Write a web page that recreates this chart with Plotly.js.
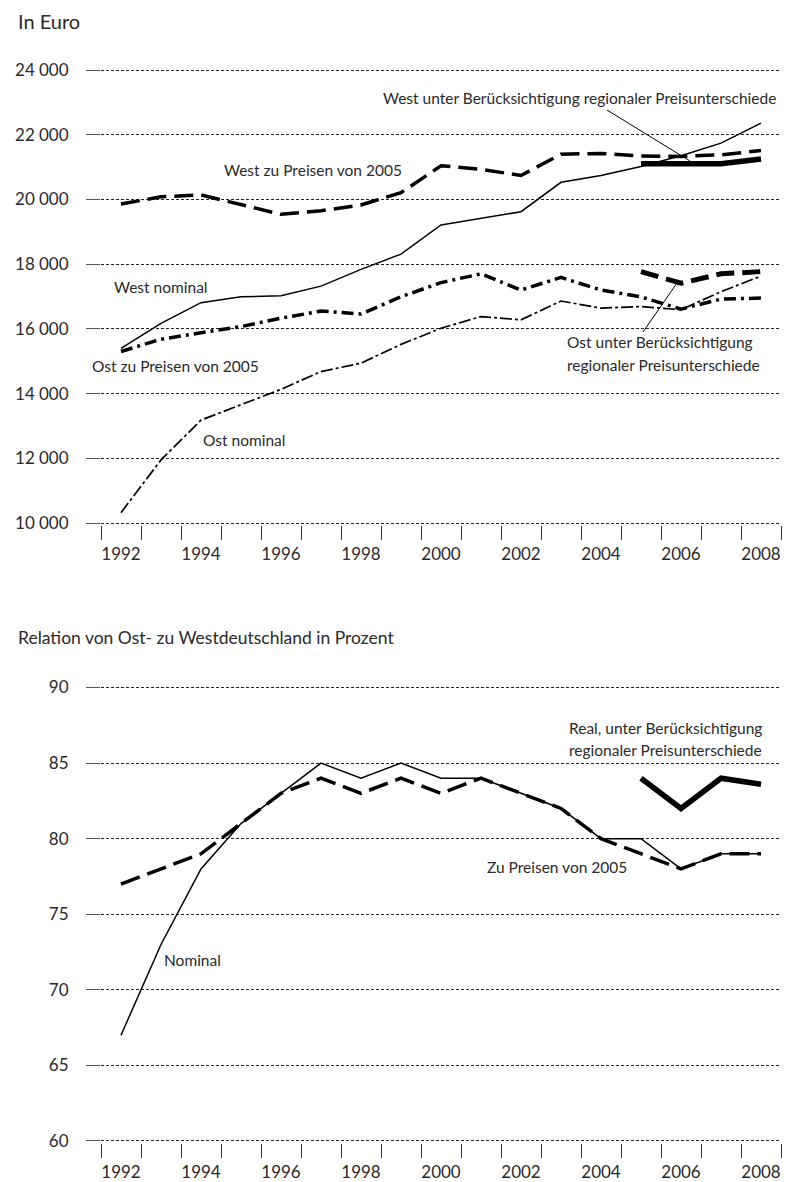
<!DOCTYPE html>
<html><head><meta charset="utf-8">
<script src="https://cdn.plot.ly/plotly-3.0.1.min.js"></script>
<style>html,body{margin:0;padding:0;background:#fff}#chart{width:795px;height:1182px}</style>
</head><body><div id="chart"></div>
<script>
// ---- data ----
const years = [1992,1993,1994,1995,1996,1997,1998,1999,2000,2001,2002,2003,2004,2005,2006,2007,2008];
const westNominal = [15400,16170,16810,16990,17020,17320,17840,18310,19210,19420,19620,20530,20740,21020,21350,21740,22360];
const westPreise2005 = [19860,20080,20140,19830,19540,19650,19830,20210,21040,20930,20740,21400,21420,21340,21330,21380,21510];
const regionalYears = [2005,2006,2007,2008];
const westRegional = [21100,21100,21100,21250];
const ostNominal = [10320,11950,13180,13650,14130,14680,14940,15520,16020,16380,16280,16860,16640,16690,16590,17150,17630];
const ostPreise2005 = [15300,15680,15880,16070,16330,16550,16460,16990,17430,17700,17200,17590,17200,16990,16610,16920,16950];
const ostRegional = [17770,17410,17700,17770];
const relNominal = [67,73,78,81,83,85,84,85,84,84,83,82,80,80,78,79,79];
const relPreise2005 = [77,78,79,81,83,84,83,84,83,84,83,82,80,79,78,79,79];
const relReal = [84,82,84,83.6];
const topTickVals = [10000,12000,14000,16000,18000,20000,22000,24000];
const topTickText = ['10\u202F000','12\u202F000','14\u202F000','16\u202F000','18\u202F000','20\u202F000','22\u202F000','24\u202F000'];
const bottomTickVals = [60,65,70,75,80,85,90];
const bottomTickText = ['60','65','70','75','80','85','90'];
const xLabelYears = [1992,1994,1996,1998,2000,2002,2004,2006,2008];
const xLabelText = ['1992','1994','1996','1998','2000','2002','2004','2006','2008'];

// ---- layout helpers ----
const W = 795, H = 1182;
const px = x => x / W;
const py = y => 1 - y / H;
const FONT = 'Lato, "Open Sans", "DejaVu Sans", sans-serif';
const TXT = '#2a2a2a';

function line(x, y, xa, ya, width, dash) {
  return {x, y, xaxis: xa, yaxis: ya, type: 'scatter', mode: 'lines',
    line: {color: '#000', width, dash: dash || 'solid'}, hoverinfo: 'skip'};
}

const traces = [
  line(years, westPreise2005, 'x', 'y', 3.5, '19px,8px'),
  line(years, westNominal, 'x', 'y', 1.5),
  line(regionalYears, westRegional, 'x', 'y', 5.5),
  line(years, ostPreise2005, 'x', 'y', 3.5, '12px,5px,3px,5px'),
  line(years, ostNominal, 'x', 'y', 1.7, '12px,3px,3px,3px'),
  line(regionalYears, ostRegional, 'x', 'y', 5, '18px,8px'),
  line(years, relPreise2005, 'x2', 'y2', 3.5, '20px,8px'),
  line(years, relNominal, 'x2', 'y2', 1.5),
  line(regionalYears, relReal, 'x2', 'y2', 5.5)
];

function xAxis(anchor) {
  return {
    domain: [px(101), px(781)], range: [1991.5, 2008.5], anchor,
    tickmode: 'array', tickvals: xLabelYears, ticktext: xLabelText,
    ticks: '', showgrid: false, zeroline: false, showline: false,
    ticklabelstandoff: 17,
    tickfont: {family: FONT, size: 17, color: TXT},
    minor: {tickmode: 'array', tickvals: years.map(v => v - 0.5).concat([2008.5]),
      ticks: 'outside', ticklen: 14, tickwidth: 1, tickcolor: '#333', showgrid: false}
  };
}
function yAxis(domain, range, vals, text, anchor) {
  return {
    domain, range, anchor,
    tickmode: 'array', tickvals: vals, ticktext: text,
    ticks: 'outside', ticklen: 14, tickwidth: 1, tickcolor: '#555',
    ticklabelstandoff: 14,
    showgrid: true, gridcolor: '#222', gridwidth: 1, griddash: '3px,2px',
    zeroline: false, showline: false,
    tickfont: {family: FONT, size: 17, color: TXT}
  };
}

const topPad = 50 * 453 / 14000;
const topDomain = [py(523 + topPad), py(70 - topPad)];
const botPad = 0.1 * 453.5 / 30;
const botDomain = [py(1141 + botPad), py(687.5 - botPad)];

function ann(text, x, y, anchor, size) {
  return {text, x: px(x), y: py(y), xref: 'paper', yref: 'paper', showarrow: false,
    xanchor: anchor || 'left', yanchor: 'middle', align: anchor === 'right' ? 'right' : 'left',
    font: {family: FONT, size: size || 15.5, color: TXT}};
}

const layout = {
  width: W, height: H, margin: {l: 0, r: 0, t: 0, b: 0},
  paper_bgcolor: '#fff', plot_bgcolor: '#fff', showlegend: false, hovermode: false,
  xaxis: xAxis('y'),
  yaxis: yAxis(topDomain, [9950, 24050], topTickVals, topTickText, 'x'),
  xaxis2: xAxis('y2'),
  yaxis2: yAxis(botDomain, [59.9, 90.1], bottomTickVals, bottomTickText, 'x2'),
  annotations: [
    ann('In Euro', 16, 21, 'left', 20),
    ann('West unter Berücksichtigung regionaler Preisunterschiede', 778, 98, 'right'),
    ann('West zu Preisen von 2005', 222, 170),
    ann('West nominal', 112, 287),
    ann('Ost zu Preisen von 2005', 90, 366),
    ann('Ost nominal', 201, 440),
    ann('Ost unter Berücksichtigung', 565, 342),
    ann('regionaler Preisunterschiede', 565, 365),
    ann('Relation von Ost- zu Westdeutschland in Prozent', 16, 637, 'left', 17.5),
    ann('Real, unter Berücksichtigung', 567, 728),
    ann('regionaler Preisunterschiede', 567, 750),
    ann('Zu Preisen von 2005', 485, 867),
    ann('Nominal', 162, 960)
  ],
  shapes: [
    {type: 'line', xref: 'paper', yref: 'paper', x0: px(607), y0: py(110), x1: px(690), y1: py(161), line: {color: '#000', width: 1}},
    {type: 'line', xref: 'paper', yref: 'paper', x0: px(643), y0: py(332), x1: px(677), y1: py(283), line: {color: '#000', width: 1}}
  ]
};

Plotly.newPlot('chart', traces, layout, {staticPlot: true, displayModeBar: false});
</script>
</body></html>
